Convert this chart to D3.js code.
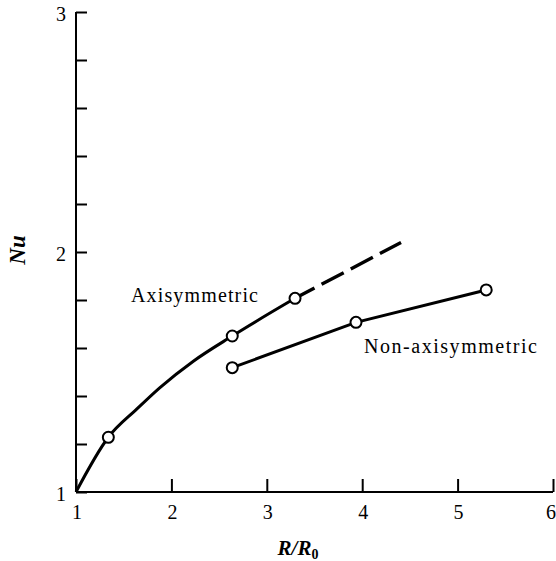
<!DOCTYPE html>
<html>
<head>
<meta charset="utf-8">
<script src="https://cdn.jsdelivr.net/npm/d3@7"></script>
<style>
  html, body { margin: 0; padding: 0; background: #fff; }
  svg text { font-family: "Liberation Serif", "Times New Roman", Times, "DejaVu Serif", serif; }
</style>
</head>
<body>
<div id="chart"></div>
<script>
// values (x = R/R0, y = Nu)
const xTicks = [1, 2, 3, 4, 5, 6];
const yTicks = [1, 1.2, 1.4, 1.6, 1.8, 2, 2.2, 2.4, 2.6, 2.8, 3];
const yTickLabels = [1, 2, 3];

// axisymmetric: measured points, drawn curve through them, dashed extrapolation
const axiX = [1.339, 2.638, 3.296];
const axiY = [1.228, 1.65, 1.807];
const axiCurveX = [1, 1.339, 1.636, 1.88, 2.23, 2.638, 3.296];
const axiCurveY = [1, 1.228, 1.345, 1.435, 1.545, 1.65, 1.807];
const axiDashX = [3.296, 4.407];
const axiDashY = [1.807, 2.04];

// non-axisymmetric
const nonX = [2.638, 3.935, 5.3];
const nonY = [1.518, 1.707, 1.842];

const settings = {
  width: 556,
  height: 561,
  left: 76, // x pixel of R/R0 = 1
  right: 553, // x pixel of R/R0 = 6
  top: 12, // y pixel of Nu = 3
  bottom: 492, // y pixel of Nu = 1
  tickLen: 11,
  lineWidth: 3,
  radius: 5.5,
  tickFont: "20px",
};

function drawChart(settings) {
  const svg = d3
    .select("#chart")
    .append("svg")
    .attr("width", settings.width)
    .attr("height", settings.height);

  const x = d3.scaleLinear().domain([1, 6]).range([settings.left, settings.right]);
  const y = d3.scaleLinear().domain([1, 3]).range([settings.bottom, settings.top]);

  // x axis: ticks point up into the plot
  const xAxis = svg
    .append("g")
    .attr("transform", `translate(0,${settings.bottom})`)
    .call(d3.axisTop(x).tickValues(xTicks).tickSize(13).tickFormat(""));
  xAxis.select(".domain").attr("d", `M${settings.left},0H${settings.right}`);

  // y axis: ticks point right
  const yAxis = svg
    .append("g")
    .attr("transform", `translate(${settings.left},0)`)
    .call(d3.axisRight(y).tickValues(yTicks).tickSize(settings.tickLen).tickFormat(""));
  yAxis.select(".domain").attr("d", `M0,${settings.top}V${settings.bottom}`);

  svg.selectAll(".domain").attr("stroke", "#000").attr("stroke-width", 2);
  svg.selectAll(".tick line").attr("stroke", "#000").attr("stroke-width", 2);

  // tick labels (the last one sits against the right edge, as in the figure)
  svg
    .append("g")
    .selectAll("text")
    .data(xTicks)
    .join("text")
    .attr("x", (d) => (d === 6 ? 556 : x(d) + 1))
    .attr("y", 519)
    .attr("text-anchor", (d) => (d === 6 ? "end" : "middle"))
    .style("font-size", settings.tickFont)
    .text((d) => d);

  svg
    .append("g")
    .selectAll("text")
    .data(yTickLabels)
    .join("text")
    .attr("x", 66)
    .attr("y", (d) => y(d) + 9)
    .attr("text-anchor", "end")
    .style("font-size", settings.tickFont)
    .text((d) => d);

  // axis titles
  const xt = svg
    .append("text")
    .attr("x", 298)
    .attr("y", 555)
    .attr("text-anchor", "middle")
    .style("font-size", "21px")
    .style("font-weight", "bold")
    .style("font-style", "italic");
  xt.append("tspan").text("R/R");
  xt.append("tspan").attr("dy", 4).style("font-size", "14px").style("font-style", "normal").text("0");

  svg
    .append("text")
    .attr("transform", "translate(25,250) rotate(-90)")
    .attr("text-anchor", "middle")
    .style("font-size", "23px")
    .style("font-weight", "bold")
    .style("font-style", "italic")
    .text("Nu");

  const line = d3
    .line()
    .x((d) => x(d[0]))
    .y((d) => y(d[1]));

  // axisymmetric solid curve
  svg
    .append("path")
    .datum(d3.zip(axiCurveX, axiCurveY))
    .attr("d", line.curve(d3.curveMonotoneX))
    .attr("fill", "none")
    .attr("stroke", "#000")
    .attr("stroke-width", settings.lineWidth);

  // dashed extrapolation
  svg
    .append("path")
    .datum(d3.zip(axiDashX, axiDashY))
    .attr("d", line.curve(d3.curveLinear))
    .attr("fill", "none")
    .attr("stroke", "#000")
    .attr("stroke-width", 3.4)
    .attr("stroke-dasharray", "25 8")
    .attr("stroke-dashoffset", 3);

  // non-axisymmetric line
  svg
    .append("path")
    .datum(d3.zip(nonX, nonY))
    .attr("d", line.curve(d3.curveLinear))
    .attr("fill", "none")
    .attr("stroke", "#000")
    .attr("stroke-width", settings.lineWidth);

  // markers
  const points = d3.zip(axiX, axiY).concat(d3.zip(nonX, nonY));
  svg
    .append("g")
    .selectAll("circle")
    .data(points)
    .join("circle")
    .attr("cx", (d) => x(d[0]))
    .attr("cy", (d) => y(d[1]))
    .attr("r", settings.radius)
    .attr("fill", "#fff")
    .attr("stroke", "#000")
    .attr("stroke-width", 2);

  // curve labels
  svg
    .append("text")
    .attr("x", 131)
    .attr("y", 302)
    .attr("textLength", 127)
    .attr("lengthAdjust", "spacing")
    .style("font-size", "20px")
    .text("Axisymmetric");

  svg
    .append("text")
    .attr("x", 364)
    .attr("y", 353)
    .attr("textLength", 173)
    .attr("lengthAdjust", "spacing")
    .style("font-size", "20px")
    .text("Non-axisymmetric");
}

drawChart(settings);
</script>
</body>
</html>
